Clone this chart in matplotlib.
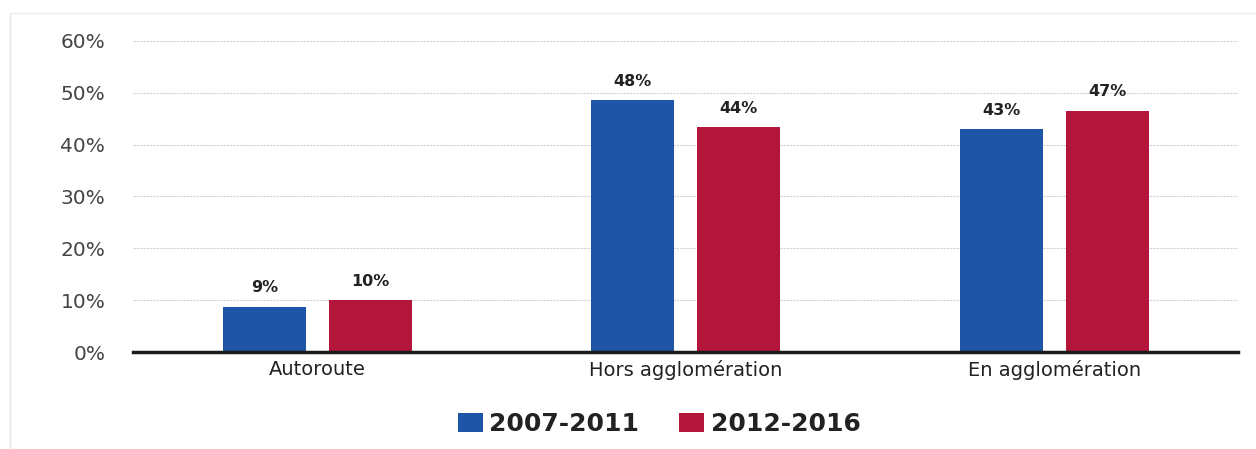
import matplotlib.pyplot as plt
import numpy as np

categories = ['Autoroute', 'Hors agglomération', 'En agglomération']
series_names = ['2007-2011', '2012-2016']
vals_2007 = [8.7, 48.6, 43.0]
vals_2012 = [10.0, 43.4, 46.5]
labels_2007 = ['9%', '48%', '43%']
labels_2012 = ['10%', '44%', '47%']
yticks = [0, 10, 20, 30, 40, 50, 60]

blue = '#1F55A6'
red = '#B3163A'

fig = plt.figure(figsize=(12.56, 4.49), dpi=100)
ax = fig.add_axes([0.106, 0.216, 0.88, 0.693])

x = np.arange(len(categories))
w = 0.225
off = 0.144
b1 = ax.bar(x - off, vals_2007, w, color=blue, label=series_names[0], zorder=3)
b2 = ax.bar(x + off, vals_2012, w, color=red, label=series_names[1], zorder=3)

for bars, labs in ((b1, labels_2007), (b2, labels_2012)):
    for bar, lab in zip(bars, labs):
        ax.text(bar.get_x() + bar.get_width() / 2, bar.get_height() + 2.2, lab,
                ha='center', va='bottom', fontsize=11.5, fontweight='bold', color='#222222')

ax.set_xlim(-0.5, 2.5)
ax.set_ylim(0, 60)
ax.set_yticks(yticks)
ax.set_yticklabels([f'{t}%' for t in yticks], fontsize=14.5, color='#444444')
ax.set_xticks(x)
ax.set_xticklabels(categories, fontsize=14, color='#222222')
ax.tick_params(axis='y', length=0, pad=20)
ax.tick_params(axis='x', length=0, pad=6)
ax.yaxis.grid(True, color='#d0d0d8', linewidth=0.8, linestyle=(0, (2, 1)), zorder=0)
for s in ['top', 'right', 'left']:
    ax.spines[s].set_visible(False)
ax.spines['bottom'].set_linewidth(2.5)
ax.spines['bottom'].set_color('#1a1a1a')
ax.spines['bottom'].set_zorder(4)

# faint frame at top-left like the scanned source
fig.add_artist(plt.Line2D([0.008, 0.008], [0.0, 0.97], color='#e6e6ea', linewidth=1))
fig.add_artist(plt.Line2D([0.008, 1.0], [0.97, 0.97], color='#ececf0', linewidth=1))

leg = fig.legend(handles=[b1, b2], loc='center', bbox_to_anchor=(0.525, 0.055), ncol=2,
                 frameon=False, handlelength=1.0, handleheight=0.75, handletextpad=0.25,
                 columnspacing=1.6, prop={'size': 18, 'weight': 'bold'})
for t in leg.get_texts():
    t.set_color('#222222')

fig.savefig('out.png', dpi=100, facecolor='white')
